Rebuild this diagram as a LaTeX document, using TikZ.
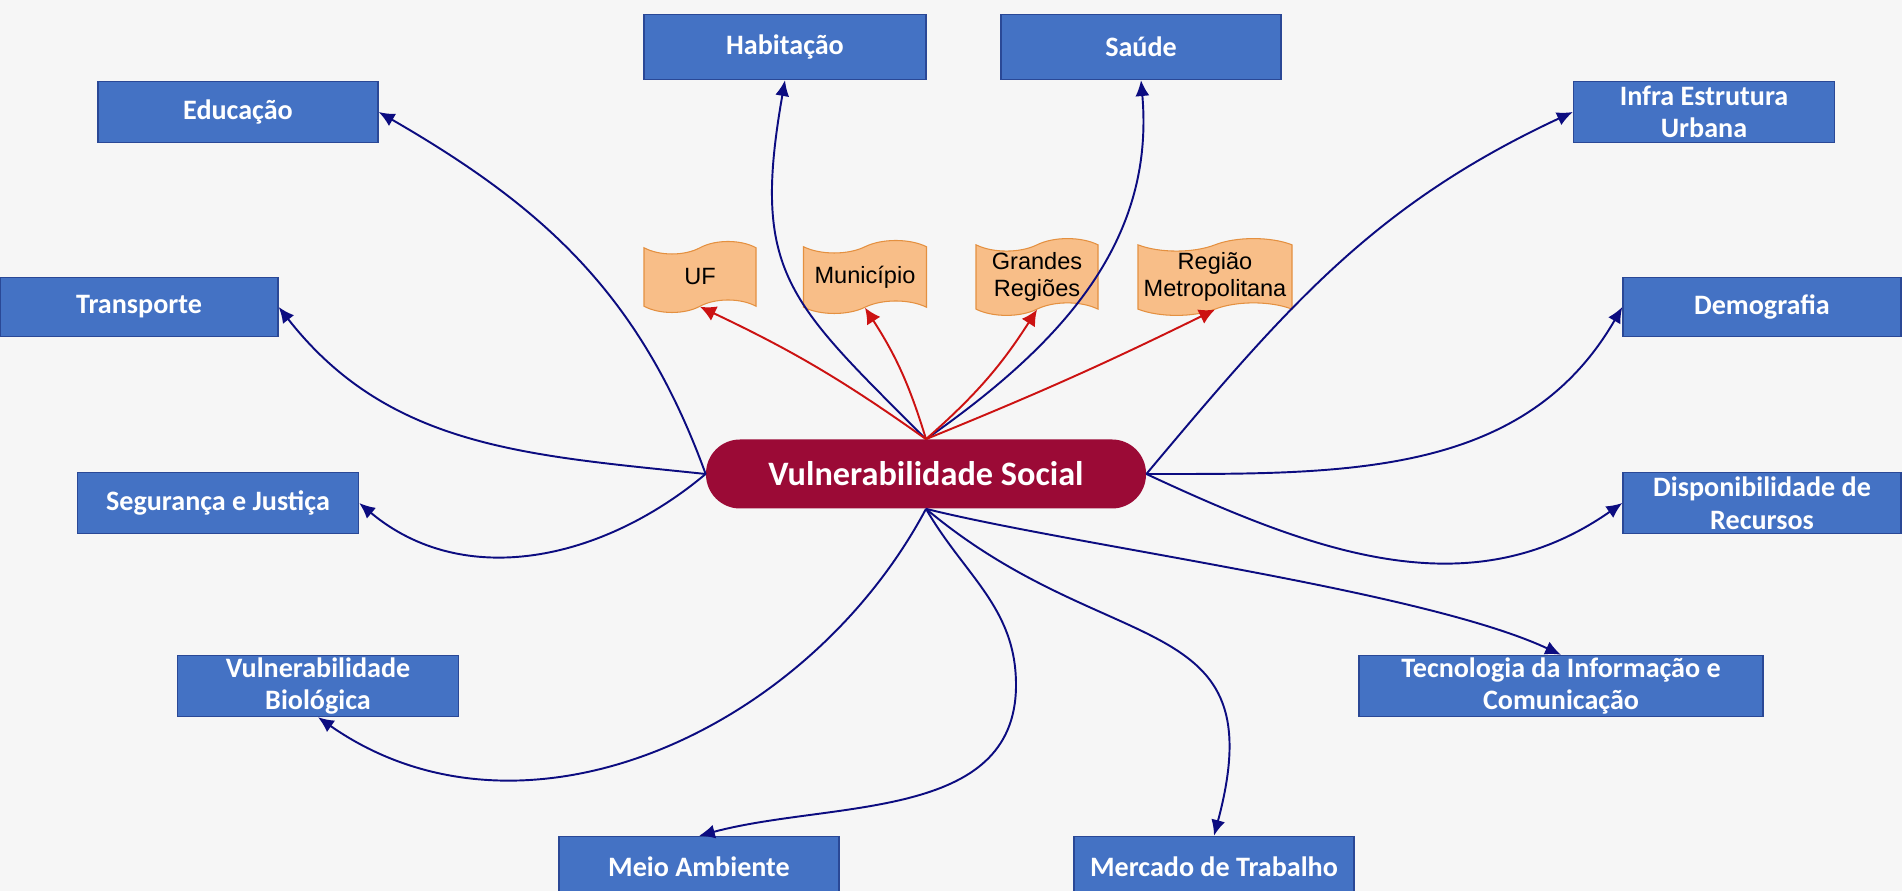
\documentclass[tikz,border=0pt]{standalone}
\usepackage{fontspec}
\setmainfont{Carlito}
\newfontfamily\flagfont{Liberation Sans}
\usetikzlibrary{shapes.symbols, arrows.meta}
\usepackage{xcolor}

\definecolor{paper}{RGB}{246,246,246}
\definecolor{boxblue}{RGB}{68,114,196}
\definecolor{boxline}{RGB}{42,72,150}
\definecolor{hubred}{RGB}{155,10,54}
\definecolor{flagfill}{RGB}{248,190,136}
\definecolor{flagline}{RGB}{228,144,64}
\definecolor{navy}{RGB}{12,12,128}
\definecolor{scalered}{RGB}{204,18,18}

\tikzset{
  topic/.style={draw=boxline, line width=0.8pt, fill=boxblue, text=white,
    font=\bfseries\fontsize{16}{18.5}\selectfont, align=center,
    minimum width=5.6cm, minimum height=1.22cm, inner sep=1pt},
  flagbox/.style={tape, draw=flagline, line width=0.6pt, fill=flagfill,
    font=\flagfont\fontsize{13.4}{15}\selectfont, align=center,
    tape bend height=0.25cm, inner sep=1pt},
  link/.style={navy, line width=1.1pt, -{Latex[length=9pt,width=8pt]}},
  scalelink/.style={scalered, line width=1.1pt, -{Latex[length=9pt,width=9pt]}}
}

\begin{document}
\begin{tikzpicture}[scale=1]
\useasboundingbox (0,0) rectangle (38.04,17.82);
\clip (0,0) rectangle (38.04,17.82);
\fill[paper] (0,0) rectangle (38.04,17.82);

        % Center node
        \node[rectangle, rounded corners=0.68cm, fill=hubred, text=white,
              font=\bfseries\fontsize{19.5}{22}\selectfont,
              minimum width=8.8cm, minimum height=1.38cm] (VS) at (18.52,8.34) {Vulnerabilidade Social};

        % Topics around the center
        \node[topic, minimum width=5.64cm, minimum height=1.3cm] (Hab) at (15.70,16.88) {Habitação};
        \node[topic, minimum width=5.6cm, minimum height=1.3cm] (Sau) at (22.82,16.88) {Saúde};
        \node[topic] (Edu) at (4.76,15.58) {Educação};
        \node[topic, minimum width=5.22cm] (Inf) at (34.08,15.58) {Infra Estrutura\\Urbana};
        \node[topic, minimum width=5.56cm, minimum height=1.18cm] (Tra) at (2.78,11.68) {Transporte};
        \node[topic, minimum width=5.56cm, minimum height=1.18cm] (Dem) at (35.24,11.68) {Demografia};
        \node[topic, minimum width=5.62cm] (Seg) at (4.36,7.76) {Segurança e Justiça};
        \node[topic, minimum width=5.56cm] (Dis) at (35.24,7.76) {Disponibilidade de\\Recursos};
        \node[topic, minimum width=5.62cm] (Bio) at (6.36,4.10) {Vulnerabilidade\\Biológica};
        \node[topic, minimum width=8.08cm] (Tec) at (31.22,4.10) {Tecnologia da Informação e\\Comunicação};
        \node[topic] (Mei) at (13.98,0.48) {Meio Ambiente};
        \node[topic] (Mer) at (24.28,0.48) {Mercado de Trabalho};

        % Territorial levels
        \node[flagbox, minimum width=2.24cm, minimum height=1.42cm] (UF) at (14.00,12.28) {UF};
        \node[flagbox, minimum width=2.46cm, minimum height=1.46cm] (Mun) at (17.30,12.28) {Município};
        \node[flagbox, minimum width=2.44cm, minimum height=1.46cm] (GR) at (20.74,12.28) {Grandes\\Regiões};
        \node[flagbox, minimum width=3.08cm, minimum height=1.46cm] (RM) at (24.30,12.28) {Região\\Metropolitana};

        % Bend point of the Meio Ambiente link
        \coordinate (MeiBend) at (20.32,4.12);

        % Draw blue arrows from the center to the topics
        \draw[link] (VS.north) to[out=135, in=-100, looseness=1.3] (Hab.south);
        \draw[link] (VS.north) to[out=35, in=-85] (Sau.south);
        \draw[link] (VS.west) to[out=110, in=-30] (Edu.east);
        \draw[link] (VS.west) to[out=174, in=-52] (Tra.east);
        \draw[link] (VS.west) to[out=-140, in=-40] (Seg.east);
        \draw[link] (VS.south) to[out=-118, in=-35] (Bio.south);
        \draw[link] (VS.south) to[out=-60, in=90] (MeiBend) to[out=-90, in=15] (Mei.north);
        \draw[link] (VS.south) to[out=-40, in=75, looseness=1.4] (Mer.north);
        \draw[link] (VS.south) to[out=-14, in=155, looseness=0.6] (Tec.north);
        \draw[link] (VS.east) to[out=-25, in=-145] (Dis.west);
        \draw[link] (VS.east) to[out=0, in=-120] (Dem.west);
        \draw[link] (VS.east) to[out=50, in=-155] (Inf.west);

        % Draw red arrows from the center to the levels
        \draw[scalelink] (VS.north) to[bend right=5] (UF.south);
        \draw[scalelink] (VS.north) to[bend right=8] (Mun.south);
        \draw[scalelink] (VS.north) to[bend right=8] (GR.south);
        \draw[scalelink] (VS.north) to[bend right=2] (RM.south);
\end{tikzpicture}
\end{document}
